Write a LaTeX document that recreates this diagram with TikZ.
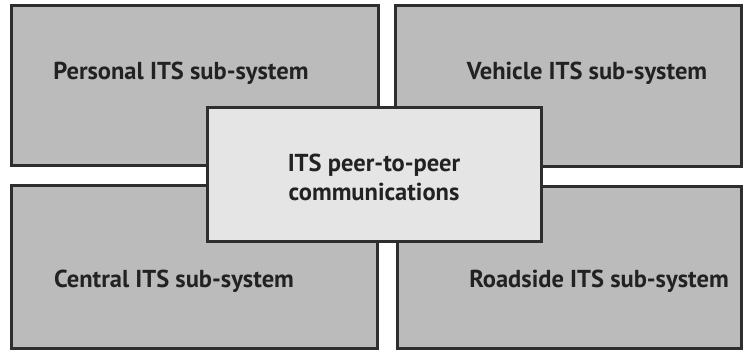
\documentclass[tikz,border=0pt]{standalone}
\usepackage{fontspec}
\setmainfont{PT Sans}
\definecolor{boxgray}{HTML}{BBBBBB}
\definecolor{hubgray}{HTML}{E5E5E5}
\definecolor{edgegray}{HTML}{2E2E2E}
\definecolor{textgray}{HTML}{222222}

\begin{document}
\begin{tikzpicture}
            [x=1pt, y=-1pt, semithick,
             subsys/.style={shape=rectangle, draw=edgegray, fill=boxgray, line width=3pt, inner sep=0pt},
             hub/.style={shape=rectangle, draw=edgegray, fill=hubgray, line width=3pt, inner sep=0pt},
             caption/.style={text=textgray, font=\fontsize{24.5}{29}\selectfont\bfseries, align=center, inner sep=0pt}]
            \useasboundingbox (0, 0) rectangle (744, 352);

            \node[subsys, minimum width=367pt, minimum height=160pt] (personal) at (194.5, 86) {};
            \node[subsys, minimum width=346pt, minimum height=161pt] (vehicle) at (568, 86.5) {};
            \node[subsys, minimum width=366pt, minimum height=163pt] (central) at (194, 267.5) {};
            \node[subsys, minimum width=344pt, minimum height=162pt] (roadside) at (569, 268) {};
            \node[hub, minimum width=334pt, minimum height=134pt] (p2p) at (374, 175) {};

            \node[caption] (personaltext) at (181, 73) {Personal ITS sub-system};
            \node[caption] (vehicletext) at (587, 73) {Vehicle ITS sub-system};
            \node[caption] (centraltext) at (174, 281) {Central ITS sub-system};
            \node[caption] (roadsidetext) at (599, 281) {Roadside ITS sub-system};
            \node[caption] (p2ptext) at (374, 177) {ITS peer-to-peer\\communications};
        \end{tikzpicture}
\end{document}
